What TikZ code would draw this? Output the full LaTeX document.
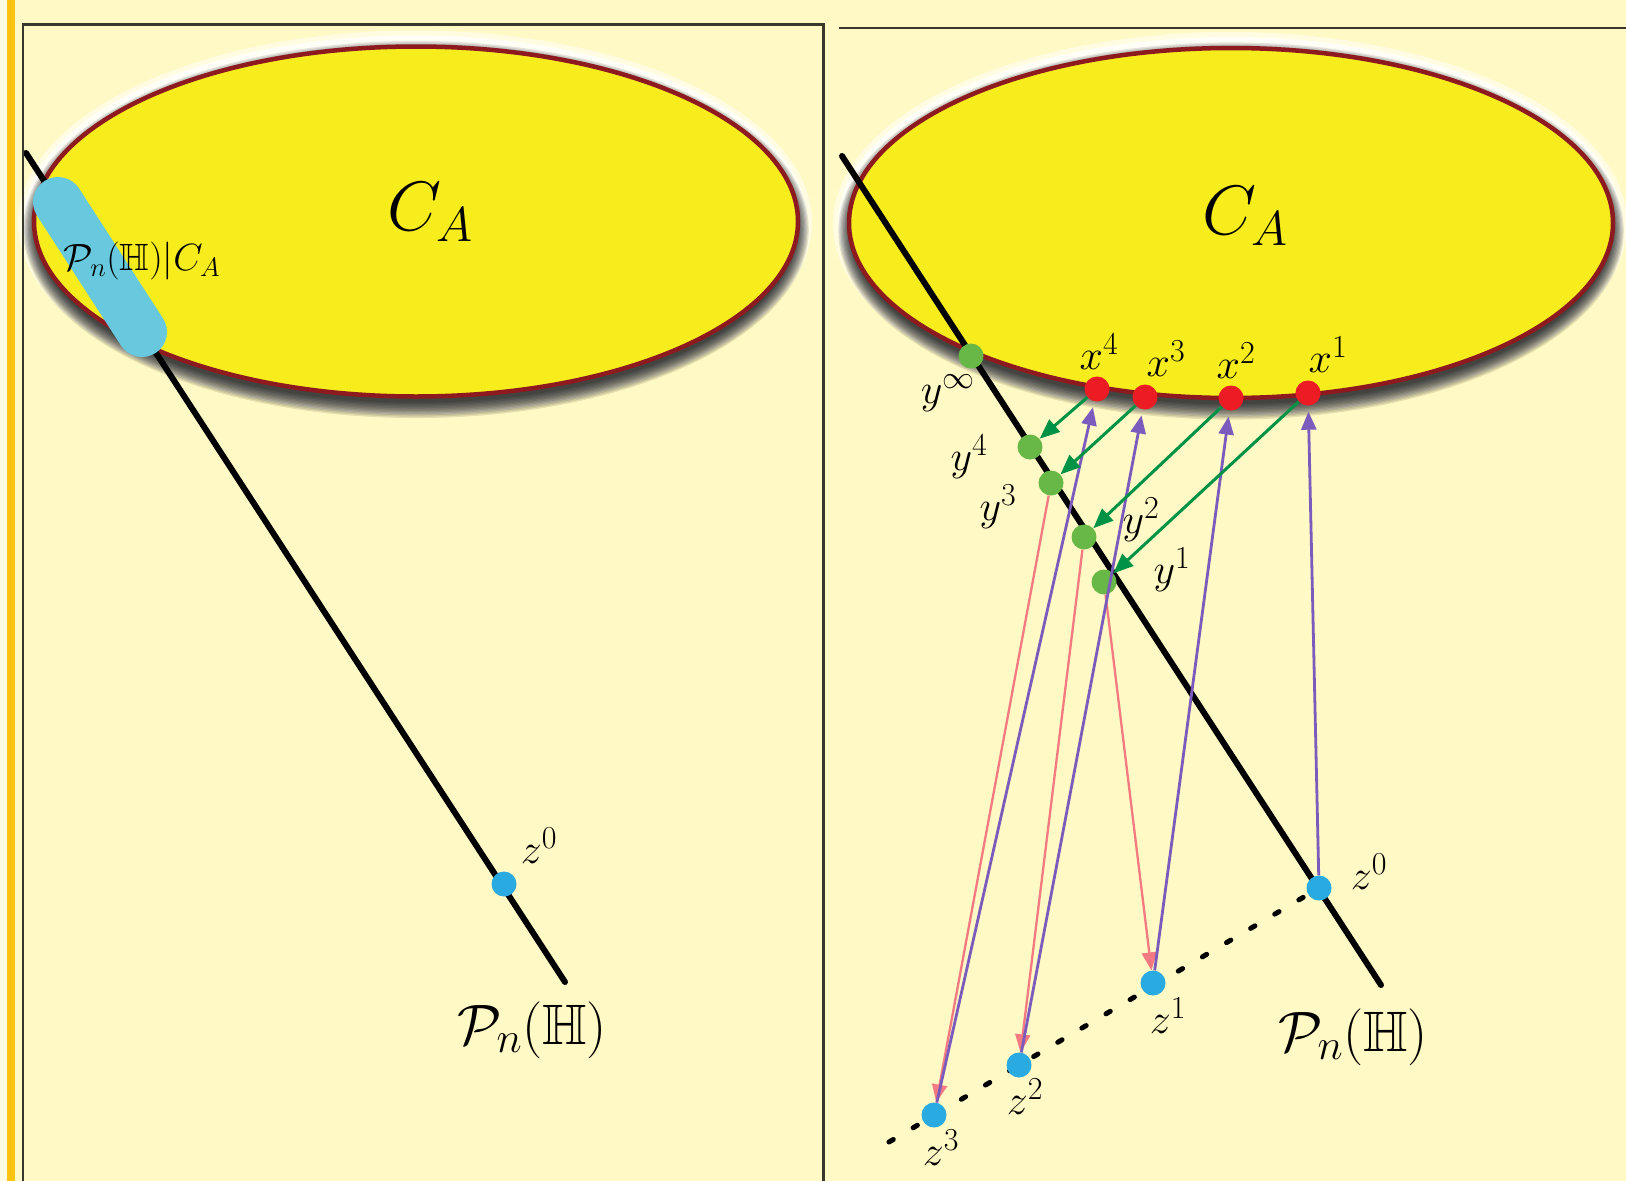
\RequirePackage{fix-cm}
\documentclass[tikz,border=0pt]{standalone}
\usepackage{amssymb}
\usetikzlibrary{arrows.meta}
\DeclareMathSizes{42}{42}{32}{23}
\DeclareMathSizes{57}{57}{43}{31}
\definecolor{bg}{RGB}{255,249,197}
\definecolor{bgstrip}{RGB}{255,250,228}
\definecolor{gold}{RGB}{253,196,15}
\definecolor{framecol}{RGB}{55,55,45}
\definecolor{ellfill}{RGB}{247,236,28}
\definecolor{ellborder}{RGB}{140,26,30}
\definecolor{capsulecol}{RGB}{104,201,222}
\definecolor{ptred}{RGB}{237,28,36}
\definecolor{ptgreen}{RGB}{103,184,70}
\definecolor{ptblue}{RGB}{41,170,225}
\definecolor{agreen}{RGB}{0,146,69}
\definecolor{apurple}{RGB}{123,92,188}
\definecolor{apink}{RGB}{242,122,128}
\newcommand{\myellipse}[2]{%
  \fill[white, opacity=0.5] (#1-1,#2+1) ellipse [x radius=397, y radius=192];
  \fill[white, opacity=0.7] (#1-1,#2) ellipse [x radius=392, y radius=186];
  \foreach \k in {1,...,12}{\fill[black, opacity=0.1] (#1,#2+8) ellipse [x radius={394-1.2*\k}, y radius={190-1.4*\k}];}
  \draw[ellborder, line width=4.5pt, fill=ellfill] (#1,#2) ellipse [x radius=382, y radius=175];
}
\begin{document}
\begin{tikzpicture}[x=1pt,y=-1pt,
  dotpt/.style={circle, inner sep=0pt, minimum size=25pt, fill=#1},
  biglab/.style={font=\fontsize{70}{84}\selectfont, inner sep=0pt},
  pnlab/.style={font=\fontsize{57}{68}\selectfont, inner sep=0pt},
  ptlab/.style={font=\fontsize{42}{50}\selectfont, inner sep=0pt},
  caplab/.style={font=\fontsize{38}{46}\selectfont, inner sep=0pt},
  pline/.style={black, line width=6pt, line cap=round},
  frameline/.style={framecol, line width=2.5pt},
  dotline/.style={black, line width=5pt, line cap=round, dash pattern=on 5pt off 23pt},
  garrow/.style={agreen, line width=3pt, -{Triangle[length=20pt,width=16pt]}},
  parrow/.style={apurple, line width=2.8pt, -{Triangle[length=18pt,width=15pt]}, shorten >=6pt},
  karrow/.style={apink, line width=2.3pt, -{Triangle[length=18pt,width=15pt]}}
]
\useasboundingbox (0,0) rectangle (1626,1181);
% background
\fill[bg] (0,0) rectangle (1626,1181);
\fill[bgstrip] (0,0) rectangle (7,1181);
\fill[gold] (7,0) rectangle (15,1181);

% ellipses
\myellipse{416}{221.5}
\myellipse{1231}{223}
\node[biglab] (caL) at (430,212) {$C_A$};
\node[biglab] (caR) at (1245,216) {$C_A$};

% ---------- left panel ----------
\coordinate (lA) at (26,153);
\coordinate (lB) at (565,982);
\draw[pline] (lA) -- (lB);
\coordinate (capA) at (58,202);
\coordinate (capB) at (142,332);
\draw[capsulecol, line width=50pt, line cap=round] (capA) -- (capB);
\node[caplab] (caplabel) at (142,261) {$\mathcal{P}_n(\mathbb{H})|C_A$};
\node[dotpt=ptblue] (zL) at (504,884) {};
\node[ptlab] (zLlab) at (539,846) {$z^0$};
\node[pnlab] (pnL) at (532,1030) {$\mathcal{P}_n(\mathbb{H})$};

% ---------- right panel ----------
\coordinate (rA) at (842,156);
\coordinate (rB) at (1381,985);
\draw[pline] (rA) -- (rB);
\coordinate (zs) at (889,1142);
\coordinate (z0c) at (1319,888);
\draw[dotline] (zs) -- (z0c);

\node[dotpt=ptgreen] (yinf) at (971,356) {};
\node[dotpt=ptred] (x4) at (1097,389) {};
\node[dotpt=ptred] (x3) at (1145,397) {};
\node[dotpt=ptred] (x2) at (1231,398) {};
\node[dotpt=ptred] (x1) at (1308,393) {};
\node[dotpt=ptgreen] (y4) at (1030,447) {};
\node[dotpt=ptgreen] (y3) at (1051,483) {};
\node[dotpt=ptgreen] (y2) at (1084,537) {};
\node[dotpt=ptgreen] (y1) at (1104,582) {};
\node[dotpt=ptblue] (z0) at (z0c) {};
\node[dotpt=ptblue] (z1) at (1153,983) {};
\node[dotpt=ptblue] (z2) at (1019,1065) {};
\node[dotpt=ptblue] (z3) at (934,1115) {};

% pink arrows y -> z
\draw[karrow] (y1) -- (z1);
\draw[karrow] (y2) -- (z2);
\draw[karrow] (y3) -- (z3);
% purple arrows z -> x
\draw[parrow] (z0) -- (x1);
\draw[parrow] (z1) -- (x2);
\draw[parrow] (z2) -- (x3);
\draw[parrow] (z3) -- (x4);
% green arrows x -> y
\draw[garrow] (x1) -- (y1);
\draw[garrow] (x2) -- (y2);
\draw[garrow] (x3) -- (y3);
\draw[garrow] (x4) -- (y4);

% labels
\node[ptlab] (x4lab) at (1099,352) {$x^4$};
\node[ptlab] (x3lab) at (1166,359) {$x^3$};
\node[ptlab] (x2lab) at (1236,361) {$x^2$};
\node[ptlab] (x1lab) at (1328,355) {$x^1$};
\node[ptlab] (yinflab) at (948,393) {$y^\infty$};
\node[ptlab] (y4lab) at (969,457) {$y^4$};
\node[ptlab] (y3lab) at (998,507) {$y^3$};
\node[ptlab] (y2lab) at (1141,520) {$y^2$};
\node[ptlab] (y1lab) at (1172,570) {$y^1$};
\node[ptlab] (z0lab) at (1369,872) {$z^0$};
\node[ptlab] (z1lab) at (1168,1016) {$z^1$};
\node[ptlab] (z2lab) at (1025,1097) {$z^2$};
\node[ptlab] (z3lab) at (941,1148) {$z^3$};
\node[pnlab] (pnR) at (1353,1037) {$\mathcal{P}_n(\mathbb{H})$};

% frames
\draw[frameline] (23,1190) -- (23,24.5) -- (823.5,24.5) -- (823.5,1190);
\draw[frameline] (839,28) -- (1630,28);
\end{tikzpicture}
\end{document}
